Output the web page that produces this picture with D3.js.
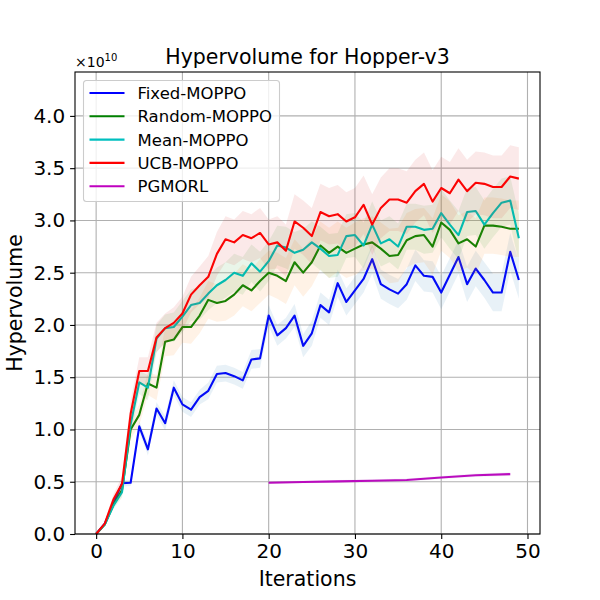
<!DOCTYPE html>
<html>
<head>
<meta charset="utf-8">
<script src="https://cdn.jsdelivr.net/npm/d3@7"></script>
<style>
  body { margin: 0; background: #fff; }
  text { font-family: "DejaVu Sans", sans-serif; }
</style>
</head>
<body>
<div id="my_dataviz"></div>
<script>
// data (values in units of 1e10)
var iterations = d3.range(0, 50);

var fixedMean = [0.00, 0.10, 0.29, 0.485, 0.49, 1.03, 0.81, 1.20, 1.06, 1.40,
  1.24, 1.19, 1.31, 1.37, 1.53, 1.54, 1.51, 1.47, 1.67, 1.68,
  2.09, 1.90, 1.97, 2.09, 1.80, 1.92, 2.19, 2.12, 2.40, 2.22,
  2.33, 2.44, 2.63, 2.39, 2.34, 2.30, 2.39, 2.57, 2.47, 2.46,
  2.31, 2.48, 2.65, 2.39, 2.54, 2.43, 2.31, 2.31, 2.70, 2.43];
var fixedStd = [0.00, 0.01, 0.02, 0.03, 0.03, 0.05, 0.06, 0.06, 0.07, 0.07,
  0.07, 0.07, 0.07, 0.08, 0.08, 0.08, 0.08, 0.08, 0.09, 0.09,
  0.10, 0.10, 0.10, 0.11, 0.11, 0.12, 0.12, 0.12, 0.13, 0.13,
  0.13, 0.13, 0.14, 0.14, 0.14, 0.14, 0.15, 0.15, 0.15, 0.15,
  0.16, 0.16, 0.16, 0.17, 0.17, 0.17, 0.18, 0.18, 0.18, 0.18];

var randomMean = [0.00, 0.09, 0.28, 0.42, 1.00, 1.14, 1.44, 1.40, 1.84, 1.86,
  1.98, 1.98, 2.09, 2.24, 2.21, 2.23, 2.29, 2.38, 2.33, 2.42,
  2.50, 2.47, 2.42, 2.60, 2.50, 2.60, 2.76, 2.69, 2.75, 2.69,
  2.73, 2.77, 2.79, 2.73, 2.66, 2.67, 2.81, 2.85, 2.86, 2.75,
  2.98, 2.91, 2.78, 2.82, 2.75, 2.95, 2.95, 2.94, 2.92, 2.92];
var randomStd = [0.00, 0.01, 0.03, 0.05, 0.09, 0.10, 0.11, 0.12, 0.14, 0.15,
  0.15, 0.16, 0.17, 0.18, 0.18, 0.19, 0.20, 0.20, 0.20, 0.21,
  0.21, 0.22, 0.22, 0.22, 0.23, 0.23, 0.23, 0.24, 0.24, 0.24,
  0.25, 0.25, 0.25, 0.25, 0.26, 0.26, 0.26, 0.26, 0.26, 0.27,
  0.27, 0.27, 0.27, 0.27, 0.27, 0.27, 0.27, 0.27, 0.27, 0.27];

var meanMean = [0.00, 0.09, 0.27, 0.40, 1.05, 1.45, 1.40, 1.87, 1.97, 1.98,
  2.08, 2.19, 2.21, 2.30, 2.38, 2.43, 2.50, 2.47, 2.59, 2.51,
  2.61, 2.76, 2.74, 2.69, 2.72, 2.79, 2.73, 2.66, 2.67, 2.85,
  2.86, 2.76, 2.96, 2.78, 2.82, 2.75, 2.94, 2.94, 2.91, 2.92,
  3.07, 2.96, 2.86, 3.08, 3.09, 2.96, 3.07, 3.17, 3.19, 2.83];
var meanStd = [0.00, 0.01, 0.03, 0.05, 0.10, 0.11, 0.12, 0.13, 0.13, 0.14,
  0.15, 0.15, 0.16, 0.16, 0.17, 0.17, 0.18, 0.18, 0.18, 0.19,
  0.19, 0.19, 0.20, 0.20, 0.20, 0.20, 0.21, 0.21, 0.21, 0.21,
  0.21, 0.22, 0.22, 0.22, 0.22, 0.22, 0.22, 0.22, 0.23, 0.23,
  0.23, 0.23, 0.23, 0.23, 0.23, 0.23, 0.23, 0.23, 0.23, 0.23];

var ucbMean = [0.00, 0.10, 0.33, 0.48, 1.15, 1.56, 1.56, 1.88, 1.97, 2.02,
  2.11, 2.29, 2.38, 2.46, 2.68, 2.82, 2.79, 2.86, 2.83, 2.88,
  2.77, 2.79, 2.71, 2.99, 2.93, 2.85, 3.08, 3.04, 3.06, 2.99,
  3.03, 3.15, 2.96, 3.12, 3.20, 3.20, 3.17, 3.28, 3.35, 3.18,
  3.31, 3.26, 3.39, 3.28, 3.36, 3.35, 3.32, 3.32, 3.42, 3.40];
var ucbStd = [0.00, 0.02, 0.05, 0.07, 0.12, 0.13, 0.13, 0.14, 0.14, 0.15,
  0.16, 0.17, 0.18, 0.20, 0.21, 0.22, 0.22, 0.23, 0.23, 0.24,
  0.24, 0.25, 0.25, 0.26, 0.26, 0.27, 0.27, 0.27, 0.28, 0.28,
  0.28, 0.28, 0.29, 0.29, 0.30, 0.30, 0.30, 0.30, 0.30, 0.30,
  0.30, 0.30, 0.30, 0.30, 0.30, 0.30, 0.30, 0.30, 0.30, 0.30];

var pgmorlIter = [20, 24, 28, 32, 36, 40, 44, 48];
var pgmorlMean = [0.490, 0.497, 0.503, 0.510, 0.517, 0.540, 0.562, 0.573];
var pgmorlStd = [0.012, 0.012, 0.013, 0.013, 0.014, 0.015, 0.016, 0.017];

var seriesNames = ["Fixed-MOPPO", "Random-MOPPO", "Mean-MOPPO", "UCB-MOPPO", "PGMORL"];
var lineColors = ["#0000ff", "#008000", "#00bfbf", "#ff0000", "#bf00bf"];
var bandColors = ["#1f77b4", "#ff7f0e", "#2ca02c", "#d62728", "#9467bd"];

var xTicks = [0, 10, 20, 30, 40, 50];
var yTicks = [0, 0.5, 1.0, 1.5, 2.0, 2.5, 3.0, 3.5, 4.0];

// figure is 600x600, axes box like matplotlib defaults
var W = 600, H = 600;
var margin = {top: 72, right: 60, bottom: 66, left: 75},
    width = W - margin.left - margin.right,
    height = H - margin.top - margin.bottom;

var svg = d3.select("#my_dataviz")
  .append("svg")
  .attr("width", W)
  .attr("height", H);

var g = svg.append("g")
  .attr("transform", "translate(" + margin.left + "," + margin.top + ")");

var x = d3.scaleLinear().domain([-2.45, 51.45]).range([0, width]);
var y = d3.scaleLinear().domain([0, 4.42]).range([height, 0]);

// grid
g.append("g").selectAll("line").data(xTicks).enter().append("line")
  .attr("x1", function(d) { return x(d); }).attr("x2", function(d) { return x(d); })
  .attr("y1", 0).attr("y2", height)
  .attr("stroke", "#b0b0b0").attr("stroke-width", 1.1);
g.append("g").selectAll("line").data(yTicks).enter().append("line")
  .attr("y1", function(d) { return y(d); }).attr("y2", function(d) { return y(d); })
  .attr("x1", 0).attr("x2", width)
  .attr("stroke", "#b0b0b0").attr("stroke-width", 1.1);

var allSeries = [
  {xs: iterations, m: fixedMean, s: fixedStd},
  {xs: iterations, m: randomMean, s: randomStd},
  {xs: iterations, m: meanMean, s: meanStd},
  {xs: iterations, m: ucbMean, s: ucbStd},
  {xs: pgmorlIter, m: pgmorlMean, s: pgmorlStd}
];

var line = d3.line()
  .x(function(d) { return x(d.x); })
  .y(function(d) { return y(d.m); });
var area = d3.area()
  .x(function(d) { return x(d.x); })
  .y0(function(d) { return y(d.m - d.s); })
  .y1(function(d) { return y(d.m + d.s); });

var plot = g.append("g");
allSeries.forEach(function(ser, k) {
  var pts = ser.xs.map(function(v, i) { return {x: v, m: ser.m[i], s: ser.s[i]}; });
  plot.append("path").datum(pts)
    .attr("d", line)
    .attr("fill", "none")
    .attr("stroke", lineColors[k])
    .attr("stroke-width", 2.1)
    .attr("stroke-linejoin", "round");
  plot.append("path").datum(pts)
    .attr("d", area)
    .attr("fill", bandColors[k])
    .attr("fill-opacity", 0.1);
});

// axes
var xAxis = g.append("g")
  .attr("transform", "translate(0," + height + ")")
  .call(d3.axisBottom(x).tickValues(xTicks).tickSize(4.9).tickPadding(4.9).tickFormat(d3.format("d")));
var yAxis = g.append("g")
  .call(d3.axisLeft(y).tickValues(yTicks).tickSize(4.9).tickPadding(4.9).tickFormat(d3.format(".1f")));
[xAxis, yAxis].forEach(function(a) {
  a.select(".domain").remove();
  a.selectAll(".tick line").attr("stroke", "#000").attr("stroke-width", 1.1);
  a.selectAll(".tick text").attr("fill", "#000")
    .style("font-family", "DejaVu Sans").style("font-size", "20px");
});

// frame
g.append("rect")
  .attr("width", width).attr("height", height)
  .attr("fill", "none").attr("stroke", "#000").attr("stroke-width", 1.1);

// legend
var legend = g.append("g").attr("transform", "translate(8.5,8.5)");
legend.append("rect")
  .attr("width", 196).attr("height", 121).attr("rx", 3)
  .attr("fill", "#fff").attr("fill-opacity", 0.8)
  .attr("stroke", "#cccccc").attr("stroke-width", 1.1);
seriesNames.forEach(function(name, k) {
  var yy = 12.5 + k * 23.3;
  legend.append("line")
    .attr("x1", 6).attr("x2", 41).attr("y1", yy).attr("y2", yy)
    .attr("stroke", lineColors[k]).attr("stroke-width", 2.1);
  legend.append("text")
    .attr("x", 54).attr("y", yy).attr("dy", "0.36em")
    .style("font-size", "16.5px").text(name);
});

// titles
svg.append("text")
  .attr("x", margin.left + width / 2).attr("y", 64)
  .attr("text-anchor", "middle").style("font-size", "20.5px")
  .text("Hypervolume for Hopper-v3");

var off = svg.append("text").attr("x", 75).attr("y", 67).style("font-size", "14px");
off.append("tspan").text("\u00d710");
off.append("tspan").attr("dy", -6).style("font-size", "10px").text("10");

svg.append("text")
  .attr("x", margin.left + width / 2).attr("y", 586)
  .attr("text-anchor", "middle").style("font-size", "20.5px")
  .text("Iterations");

svg.append("text")
  .attr("transform", "translate(22," + (margin.top + height / 2) + ") rotate(-90)")
  .attr("text-anchor", "middle").style("font-size", "20.5px")
  .text("Hypervolume");
</script>
</body>
</html>
